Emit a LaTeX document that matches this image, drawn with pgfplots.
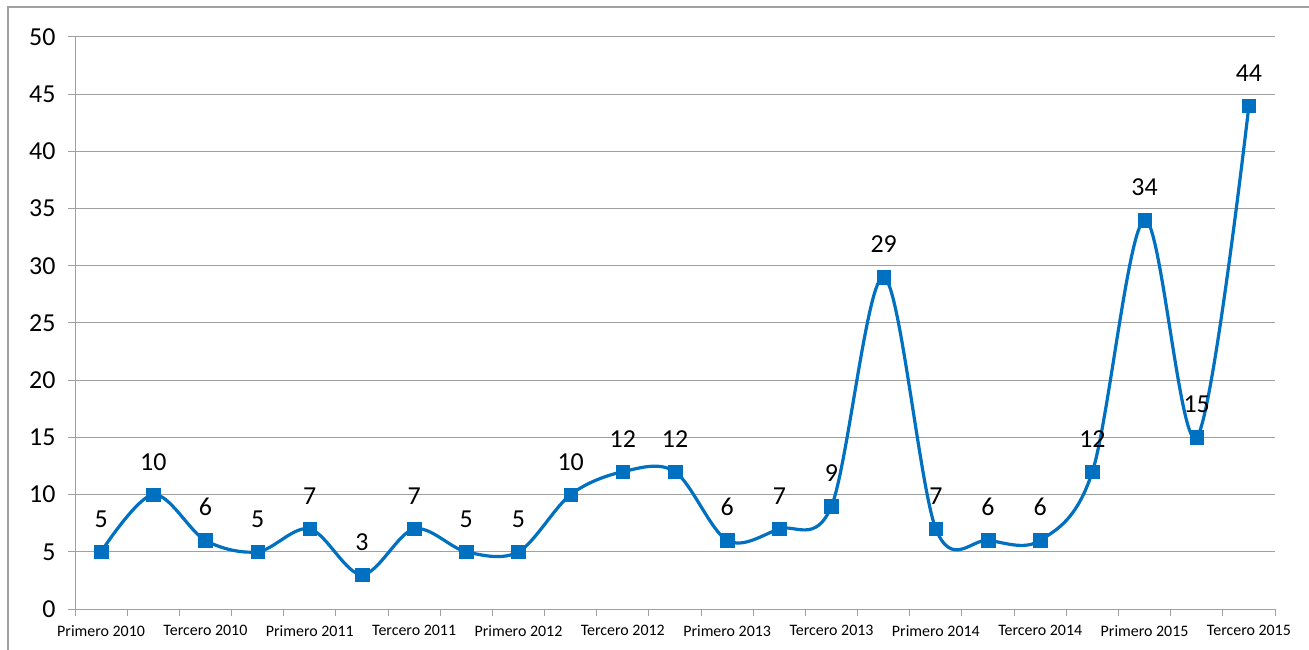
\documentclass[border=0pt]{standalone}
\usepackage{pgfplots}
\pgfplotsset{compat=1.18}
\usepackage{fontspec}
\setmainfont{Carlito}
\definecolor{serie}{HTML}{0070C0}
\definecolor{gridc}{HTML}{A0A0A0}
\begin{document}
\begin{tikzpicture}[x=1bp,y=1bp]
\path[use as bounding box] (0,0) rectangle (1309,650);
\draw[gridc, line width=1.2bp] (8,0) -- (8,643) -- (1309,643);
\begin{axis}[at={(75bp,41bp)}, anchor=south west, scale only axis,
  width=1200bp, height=572bp,
  xmin=-0.5, xmax=22.5, ymin=0, ymax=50,
  axis x line*=bottom, axis y line*=left,
  axis line style={gridc, line width=1bp, -},
  ytick={0,5,...,50},
  ymajorgrids, major grid style={gridc, line width=1bp},
  tick align=outside, major tick length=7bp,
  tick style={gridc, line width=1bp},
  /pgf/number format/assume math mode=true,
  yticklabel style={font=\fontsize{26}{28}\selectfont, xshift=-9bp},
  xtick={-0.5,0.5,...,22.5}, xticklabels={},
  extra x ticks={0,2,...,22},
  extra x tick labels={Primero 2010,Tercero 2010,Primero 2011,Tercero 2011,Primero 2012,Tercero 2012,Primero 2013,Tercero 2013,Primero 2014,Tercero 2014,Primero 2015,Tercero 2015},
  extra x tick style={major tick length=0pt, grid=none, xticklabel style={font=\fontsize{16}{18}\selectfont, yshift=-13bp}},
  nodes near coords,
  every node near coord/.append style={font=\fontsize{26}{28}\selectfont, text=black, inner sep=0pt, anchor=south, yshift=24bp},
  clip=false,
]
\addplot[serie, line width=3.2bp, smooth, tension=0.55, mark=square*, mark size=6.8bp, mark options={fill=serie, draw=serie, line width=0.5bp}]
coordinates {(0,5) (1,10) (2,6) (3,5) (4,7) (5,3) (6,7) (7,5) (8,5) (9,10) (10,12) (11,12) (12,6) (13,7) (14,9) (15,29) (16,7) (17,6) (18,6) (19,12) (20,34) (21,15) (22,44)};
\end{axis}
\end{tikzpicture}
\end{document}
